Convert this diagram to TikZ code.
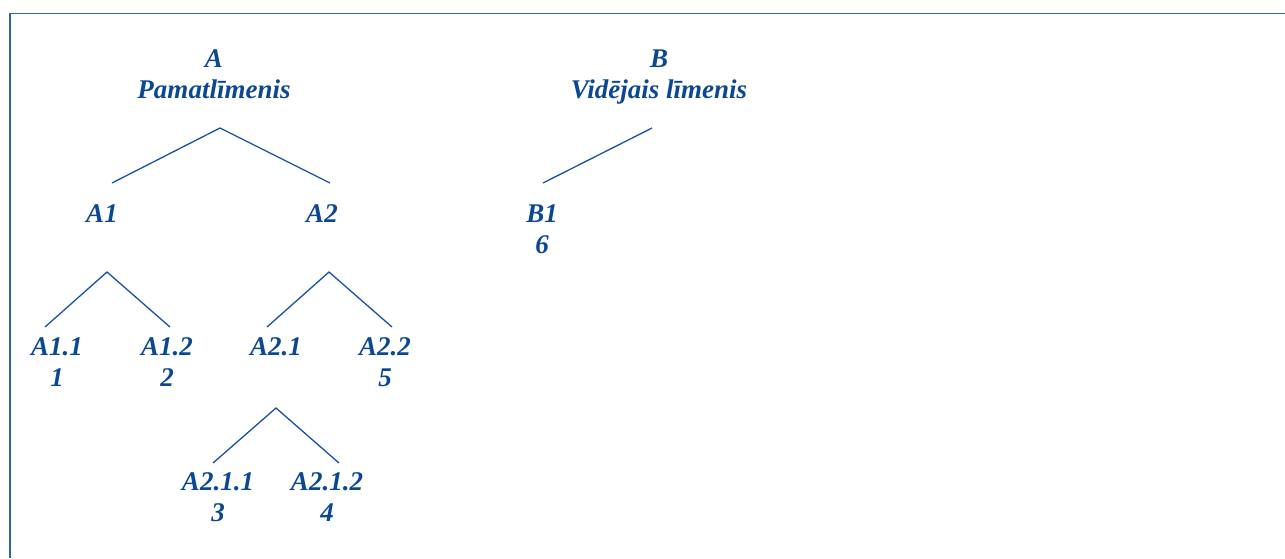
\documentclass[tikz,border=0pt]{standalone}
\usepackage{fontspec}
\setmainfont{Liberation Serif}
\definecolor{txtblue}{RGB}{12,72,146}
\definecolor{lineblue}{RGB}{22,82,160}
\definecolor{frameblue}{RGB}{48,100,168}
\tikzset{
  lbl/.style={anchor=base, inner sep=0pt, align=center, text=txtblue,
    font=\fontsize{27}{31}\selectfont\bfseries\itshape},
  branch/.style={draw=lineblue, line width=1.3pt},
  frame/.style={draw=frameblue, line width=1.8pt}
}
\begin{document}
\begin{tikzpicture}[x=1pt,y=-1pt]
\useasboundingbox (0,0) rectangle (1285,558);
\draw[frame] (10,558) -- (10,13.5) -- (1285,13.5);
% labels (base anchor = baseline of the last line)
\node[lbl] (A) at (214,98) {A\\Pamatlīmenis};
\node[lbl] (B) at (659,98) {B\\Vidējais līmenis};
\node[lbl] (A1) at (102,222) {A1};
\node[lbl] (A2) at (322,222) {A2};
\node[lbl] (B1) at (542,253) {B1\\6};
\node[lbl] (A11) at (57,386) {A1.1\\1};
\node[lbl] (A12) at (167,386) {A1.2\\2};
\node[lbl] (A21) at (276,355) {A2.1};
\node[lbl] (A22) at (385,386) {A2.2\\5};
\node[lbl] (A211) at (218,521) {A2.1.1\\3};
\node[lbl] (A212) at (327,521) {A2.1.2\\4};
% branch points
\coordinate (A-top) at (220,128);
\coordinate (A1-up) at (112,183);
\coordinate (A2-up) at (330,183);
\coordinate (B-top) at (652,128);
\coordinate (B1-up) at (543,183);
\coordinate (A1-top) at (107,272);
\coordinate (A11-up) at (45,327);
\coordinate (A12-up) at (170,327);
\coordinate (A2-top) at (329,272);
\coordinate (A21-up) at (267,327);
\coordinate (A22-up) at (392,327);
\coordinate (A21-top) at (276,408);
\coordinate (A211-up) at (213,463);
\coordinate (A212-up) at (339,463);
% branches
\draw[branch] (A1-up) -- (A-top) -- (A2-up);
\draw[branch] (B-top) -- (B1-up);
\draw[branch] (A11-up) -- (A1-top) -- (A12-up);
\draw[branch] (A21-up) -- (A2-top) -- (A22-up);
\draw[branch] (A211-up) -- (A21-top) -- (A212-up);
\end{tikzpicture}
\end{document}
